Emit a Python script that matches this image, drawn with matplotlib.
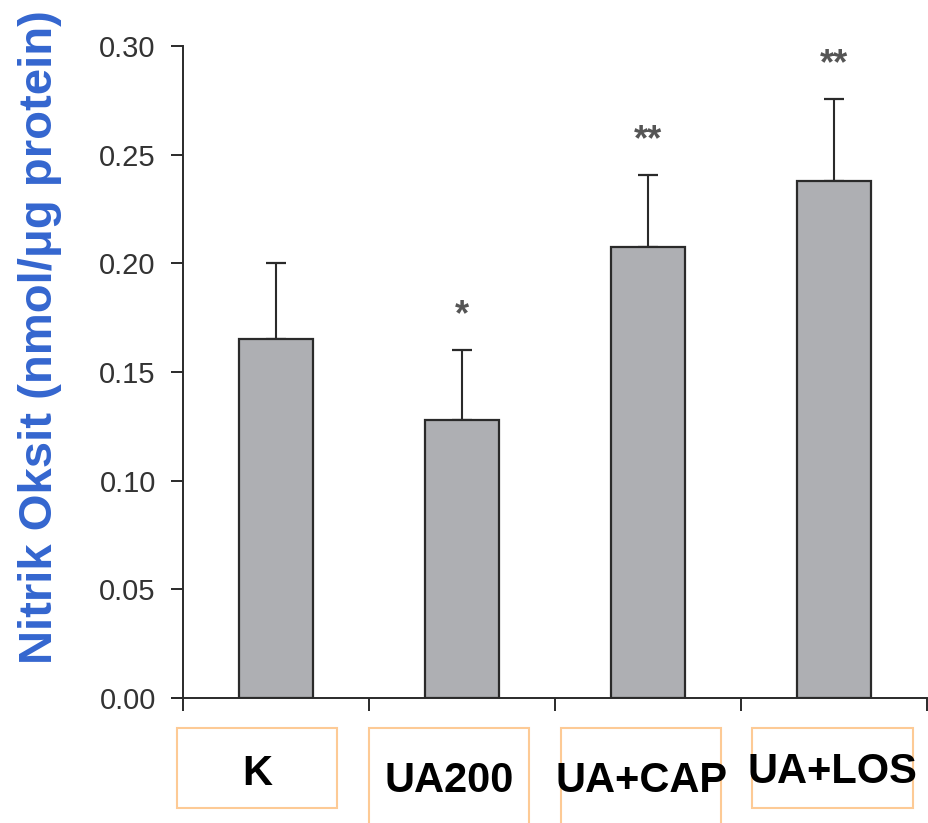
import matplotlib
matplotlib.use("Agg")
import matplotlib.pyplot as plt
from matplotlib.patches import Rectangle

categories = ["K", "UA200", "UA+CAP", "UA+LOS"]
means = [0.165, 0.128, 0.2075, 0.238]
errors = [0.035, 0.032, 0.033, 0.0375]
stars = ["", "*", "**", "**"]
yticks = [0.00, 0.05, 0.10, 0.15, 0.20, 0.25, 0.30]
ylabel = "Nitrik Oksit (nmol/μg protein)"

W, H = 929, 823
fig = plt.figure(figsize=(W / 100, H / 100), dpi=100)
ax = fig.add_axes([183 / W, 1 - 698 / H, 744 / W, 652 / H])

x = list(range(len(categories)))
edge = "#2a2a2a"
ax.bar(x, means, width=0.4, color="#AEAFB3", edgecolor=edge, linewidth=1.6, zorder=2)
ax.errorbar(x, means, yerr=[[0] * len(means), errors], fmt="none", ecolor=edge,
            elinewidth=1.5, capsize=7, capthick=1.6, zorder=1)

for xi, m, e, s in zip(x, means, errors, stars):
    if s:
        ax.annotate(s, (xi, m + e), xytext=(0, 18), textcoords="offset points",
                    ha="center", va="baseline", fontsize=26, color="#555555",
                    fontweight="bold", family="Liberation Sans")

ax.set_xlim(-0.5, 3.5)
ax.set_ylim(0, 0.30)
ax.set_yticks(yticks)
ax.set_yticklabels([f"{v:.2f}" for v in yticks], fontsize=21, color="#333333",
                   family="Liberation Sans")
ax.set_xticks([-0.5, 0.5, 1.5, 2.5, 3.5])
ax.set_xticklabels([])
ax.tick_params(axis="y", length=8.6, width=1.4, color=edge, pad=11)
ax.tick_params(axis="x", length=9.5, width=1.4, color=edge)
for side in ["top", "right"]:
    ax.spines[side].set_visible(False)
for side in ["left", "bottom"]:
    ax.spines[side].set_color(edge)
    ax.spines[side].set_linewidth(1.4)
ax.spines["bottom"].set_bounds(-0.5 - 11 / 186, 3.5)

fig.text(52 / W, 1 - 337 / H, ylabel, rotation=90, rotation_mode="anchor",
         ha="center", va="baseline", fontsize=34, fontweight="bold",
         color="#3466CF", family="Liberation Sans")

# label boxes
boxes = [(177, 728, 160, 80), (369, 728, 160, 110), (561, 728, 160, 110), (752, 728, 161, 80)]
label_pos = [(257, 785), (449, 792), (641, 792), (832, 783)]
for (bx, by, bw, bh), (lx, ly), lab in zip(boxes, label_pos, categories):
    fig.patches.append(Rectangle((bx / W, 1 - (by + bh) / H), bw / W, bh / H,
                                 transform=fig.transFigure, fill=False,
                                 edgecolor="#FDCA95", linewidth=1.5))
    fig.text(lx / W, 1 - ly / H, lab, ha="center", va="baseline", fontsize=30,
             fontweight="bold", color="black", family="Liberation Sans")

fig.savefig("out.png", dpi=100)
